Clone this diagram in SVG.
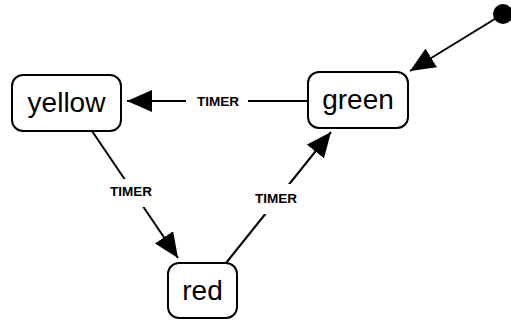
<svg xmlns="http://www.w3.org/2000/svg" width="511" height="320" viewBox="0 0 511 320">
<style>
.node{fill:#fff;stroke:#000;stroke-width:2}
.nl{font-family:"Liberation Sans",Arial,sans-serif;font-size:28px;text-anchor:middle;fill:#000}
.edge{stroke:#000;stroke-width:2;fill:none}
.el{font-family:"Liberation Sans",Arial,sans-serif;font-size:13.5px;font-weight:bold;text-anchor:middle;fill:#000}
.lb{fill:#fff}
</style>
<defs>
<marker id="ah" viewBox="0 0 25 22" refX="25" refY="11" markerWidth="25" markerHeight="22" markerUnits="userSpaceOnUse" orient="auto">
<path d="M0,0 L25,11 L0,22 z" fill="#000"/>
</marker>
</defs>
<g id="connectors">
<line class="edge" x1="503" y1="14" x2="410" y2="71" marker-end="url(#ah)"/>
<line class="edge" x1="308" y1="101" x2="127" y2="101" marker-end="url(#ah)"/>
<line class="edge" x1="92" y1="131" x2="178" y2="258" marker-end="url(#ah)"/>
<line class="edge" x1="226" y1="263" x2="331" y2="132" marker-end="url(#ah)"/>
<rect class="lb" x="186" y="92" width="62" height="18"/>
<text class="el" x="218" y="106">TIMER</text>
<rect class="lb" x="102" y="179" width="58" height="28"/>
<text class="el" x="131" y="196">TIMER</text>
<rect class="lb" x="246" y="184" width="60" height="30"/>
<text class="el" x="276" y="203">TIMER</text>
</g>
<g id="init"><circle cx="503" cy="14" r="10" fill="#000"/></g>
<g id="yellow"><rect class="node" x="12" y="75" width="109" height="56" rx="11"/><text class="nl" x="66.5" y="112">yellow</text></g>
<g id="green"><rect class="node" x="308" y="72" width="100" height="56" rx="11"/><text class="nl" x="358" y="109">green</text></g>
<g id="red"><rect class="node" x="168" y="263" width="69" height="55" rx="11"/><text class="nl" x="202.5" y="300">red</text></g>
</svg>
